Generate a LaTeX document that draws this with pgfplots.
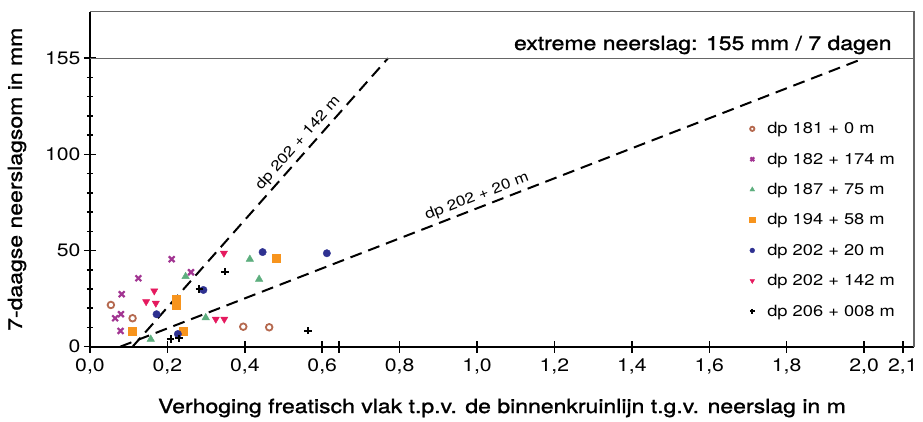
\documentclass[border=0pt]{standalone}
\usepackage{fontspec}
\setmainfont{TeX Gyre Heros}[FakeStretch=1.18]
\newfontfamily\medfont{TeX Gyre Heros}[FakeStretch=1.18, FakeBold=1.3]
\usepackage{pgfplots}
\pgfplotsset{compat=1.18}
\definecolor{cBrown}{HTML}{B5694F}
\definecolor{cPurple}{HTML}{A23592}
\definecolor{cGreen}{HTML}{5DAE7E}
\definecolor{cOrange}{HTML}{F7941D}
\definecolor{cBlue}{HTML}{2E3191}
\definecolor{cRed}{HTML}{E5195E}
\begin{document}
\begin{tikzpicture}
\begin{axis}[
  scale only axis, width=824pt, height=335pt,
  xmin=0, xmax=2.129, ymin=0, ymax=174.2,
  axis x line*=bottom, axis y line*=left,
  axis line style={line width=1.8pt, -},
  xtick={0,0.2,0.4,0.6,0.8,1.0,1.2,1.4,1.6,1.8,2.0,2.1},
  xticklabels={{0,0},{0,2},{0,4},{0,6},{0,8},{1,0},{1,2},{1,4},{1,6},{1,8},{2,0},{2,1}},
  extra x ticks={0.643}, extra x tick labels={},
  extra x tick style={tick align=center, major tick length=12pt},
  ytick={0,50,100,150}, yticklabels={0,50,100,155},
  minor ytick={10,20,30,40,60,70,80,90,110,120,130,140},
  tick align=center, major tick length=12pt, minor tick length=6pt,
  every tick/.style={line width=1.5pt, black},
  /pgf/number format/assume math mode=true,
  tick label style={font=\fontsize{18}{18}\selectfont},
  xticklabel style={yshift=-2pt},
  xlabel={Verhoging freatisch vlak t.p.v. de binnenkruinlijn t.g.v. neerslag in m},
  ylabel={7-daagse neerslagsom in mm},
  xlabel style={font=\medfont\fontsize{19.5}{19.5}\selectfont, at={(axis description cs:0.5,-0.183)}, anchor=center},
  ylabel style={font=\medfont\fontsize{19.5}{19.5}\selectfont, at={(axis description cs:-0.0886,0.5)}, anchor=center},
  legend style={draw=none, fill=none, at={(axis description cs:0.795,0.682)}, anchor=north west,
    font=\fontsize{15.5}{15.5}\selectfont, row sep=13.6pt, legend cell align=left},
  legend image code/.code={%
    \path[draw=none, fill=none] (-4pt,0pt) -- (13pt,0pt);
    \draw[#1, every mark/.append style={scale=0.65}] plot coordinates {(0pt,0pt)};},
  clip=false,
]
% dp 181 + 0 m
\addplot[only marks, mark=o, mark size=3.3pt, draw=cBrown, line width=1.8pt, mark options={fill=white}]
  coordinates {(0.054,21.7) (0.110,14.8) (0.396,10.4) (0.463,10.1)};
\addlegendentry{dp 181 + 0 m}
% dp 182 + 174 m
\addplot[only marks, mark=x, mark size=4.1pt, draw=cPurple, line width=2.2pt]
  coordinates {(0.211,45.5) (0.125,35.6) (0.261,38.7) (0.082,27.3) (0.080,16.9) (0.065,14.8) (0.079,8.2)};
\addlegendentry{dp 182 + 174 m}
% dp 187 + 75 m
\addplot[only marks, mark=triangle*, mark size=4.3pt, color=cGreen]
  coordinates {(0.247,36.5) (0.413,45.5) (0.437,35.1) (0.299,15.1) (0.157,3.9)};
\addlegendentry{dp 187 + 75 m}
% dp 194 + 58 m
\addplot[only marks, mark=square*, mark size=4pt, color=cOrange]
  coordinates {(0.480,46.0) (0.224,24.7) (0.224,21.7) (0.108,8.2) (0.241,8.2)};
\addlegendentry{dp 194 + 58 m}
% dp 202 + 20 m
\addplot[only marks, mark=*, mark size=3.7pt, color=cBlue]
  coordinates {(0.446,49.2) (0.612,48.6) (0.293,29.5) (0.172,16.9) (0.227,6.6)};
\addlegendentry{dp 202 + 20 m}
% dp 202 + 142 m
\addplot[only marks, mark=triangle*, mark size=4.1pt, color=cRed, mark options={rotate=180}]
  coordinates {(0.346,48.6) (0.166,29.0) (0.145,23.4) (0.170,22.6) (0.325,14.3) (0.347,14.3)};
\addlegendentry{dp 202 + 142 m}
% dp 206 + 008 m
\addplot[only marks, mark=+, mark size=3.6pt, draw=black, line width=2pt]
  coordinates {(0.349,39.1) (0.282,30.0) (0.563,8.3) (0.208,4.0) (0.230,4.4)};
\addlegendentry{dp 206 + 008 m}
% dashed reference lines
\addplot[forget plot, black, line width=2pt, dash pattern=on 12pt off 7pt]
  coordinates {(0.110,0) (0.770,150)}
  node[pos=0.68, sloped, above, font=\fontsize{14.5}{14.5}\selectfont, inner sep=3pt] {dp 202 + 142 m};
\addplot[forget plot, black, line width=2pt, dash pattern=on 12pt off 7pt]
  coordinates {(0.078,0) (2.0,150)}
  node[pos=0.485, sloped, above, font=\fontsize{14.5}{14.5}\selectfont, inner sep=3pt] {dp 202 + 20 m};
% extreme line and frame
\draw[gray!80!black, line width=1.2pt] (axis cs:0,150) -- (axis cs:2.129,150);
\draw[gray!80!black, line width=1.2pt] (axis cs:0,174.2) -- (axis cs:2.129,174.2) -- (axis cs:2.129,0);
\node[anchor=base east, font=\medfont\fontsize{19.5}{19.5}\selectfont] at (axis cs:2.080,154.3) {extreme neerslag: 155 mm / 7 dagen};
\end{axis}
\path (current axis.south west) ++(-90pt,-74.3pt) rectangle ++(923pt,421pt);
\end{tikzpicture}
\end{document}
